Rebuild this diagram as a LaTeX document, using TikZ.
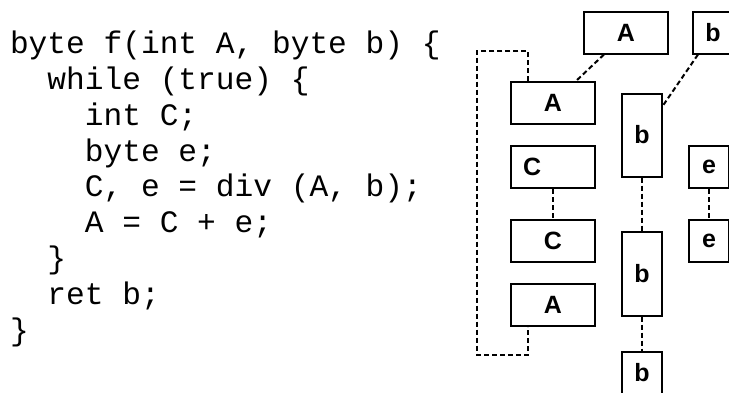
\documentclass[tikz,border=0pt]{standalone}
\usepackage{fontspec}
\newfontfamily\codefont{Liberation Mono}
\newfontfamily\lblfont{Liberation Sans}
\begin{document}
\begin{tikzpicture}[x=1pt,y=-1pt,
  box/.style={draw=black,line width=2pt,fill=white,inner sep=0pt,
    font=\lblfont\bfseries\fontsize{25}{30}\selectfont},
  wbox/.style={box,minimum width=84pt,minimum height=42pt},
  nbox/.style={box,minimum width=40pt,minimum height=42pt},
  link/.style={line width=2pt,dash pattern=on 5pt off 3pt},
  code/.style={anchor=base west,inner sep=0pt,
    font=\codefont\fontsize{31.2}{36}\selectfont}]
\useasboundingbox (0,0) rectangle (729,392);
\clip (0,0) rectangle (729,392);
% code lines
\def\cw{18.72}
\node[code] (l1) at (9.8,53.3) {byte f(int A, byte b) \{};
\node[code] (l2) at (9.8+2*\cw,89.2) {while (true) \{};
\node[code] (l3) at (9.8+4*\cw,125.1) {int C;};
\node[code] (l4) at (9.8+4*\cw,161.0) {byte e;};
\node[code] (l5) at (9.8+4*\cw,196.9) {C, e = div (A, b);};
\node[code] (l6) at (9.8+4*\cw,232.8) {A = C + e;};
\node[code] (l7) at (9.8+2*\cw,268.7) {\}};
\node[code] (l8) at (9.8+2*\cw,304.6) {ret b;};
\node[code] (l9) at (9.8,340.5) {\}};
% boxes
\node[wbox] (Atop) at (626,32.5) {A};
\node[nbox,minimum width=40pt] (btop) at (713,32.5) {b};
\node[wbox] (A1) at (553,103) {A};
\node[nbox,minimum height=83pt] (bt1) at (642,135) {b};
\node[wbox,text width=60pt,align=left] (C1) at (553,167) {C};
\node[nbox] (e1) at (709,167) {e};
\node[wbox] (C2) at (553,241) {C};
\node[nbox] (e2) at (709,241) {e};
\node[nbox,minimum height=84pt] (bt2) at (642,273.5) {b};
\node[wbox] (A2) at (553,305) {A};
\node[nbox] (bbot) at (642,373) {b};
% connectors
\draw[link] ([xshift=21pt]Atop.south west) -- ([xshift=66pt]A1.north west);
\draw[link] ([xshift=6pt]btop.south west) -- ([yshift=-13pt]bt1.north east);
\draw[link] (C1.south) -- (C2.north);
\draw[link] (e1.south) -- (e2.north);
\draw[link] (bt1.south) -- (bt2.north);
\draw[link] (bt2.south) -- (bbot.north);
\coordinate (loopTL) at (477.3,50.7);
\coordinate (loopBL) at (477.3,355);
\draw[link] ([xshift=18pt]A1.north west) |- (loopTL) -- (loopBL) -| ([xshift=18pt]A2.south west);
\end{tikzpicture}
\end{document}
